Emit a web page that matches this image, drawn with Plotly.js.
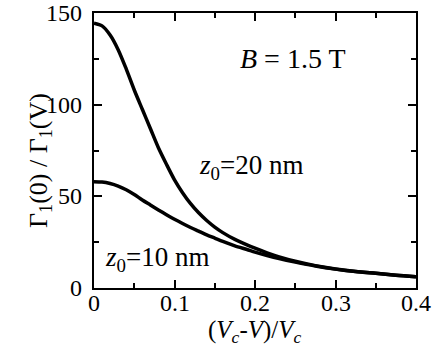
<!DOCTYPE html>
<html>
<head>
<meta charset="utf-8">
<script src="https://cdn.plot.ly/plotly-3.0.1.min.js"></script>
<style>
  html, body { margin: 0; padding: 0; background: #fff; }
  #chart { width: 436px; height: 361px; }
</style>
</head>
<body>
<div id="chart"></div>
<script>
// reduced voltage (Vc-V)/Vc
const xVals = [0, 0.01, 0.02, 0.03, 0.04, 0.05, 0.06, 0.07, 0.08, 0.09, 0.10, 0.11, 0.12, 0.13, 0.14, 0.15,
	0.16, 0.175, 0.19, 0.20, 0.215, 0.23, 0.25, 0.275, 0.30, 0.325, 0.35, 0.375, 0.40];

// Gamma1(0)/Gamma1(V) for z0 = 20 nm
const ratio20 = [144.5, 143, 138, 130, 119.5, 108, 97.5, 87, 76.5, 67.5, 59, 52, 46, 41, 36.8, 33.2,
	30.2, 26.5, 23.5, 21.7, 19.2, 17, 14.6, 12.2, 10.4, 9, 8, 7, 6.2];

// Gamma1(0)/Gamma1(V) for z0 = 10 nm
const ratio10 = [58, 57.8, 57, 55.6, 53.6, 51, 48, 45.3, 42.6, 40, 37.5, 35.2, 33, 31, 29, 27.2,
	25.4, 23, 21, 19.6, 17.7, 16, 14.1, 12, 10.3, 9, 8, 7, 6.2];

const xTicks = [0, 0.1, 0.2, 0.3, 0.4];
const yTicks = [0, 50, 100, 150];

const serif = "Times New Roman";

// both curves drawn the same way
const makeTrace = (y, name) => ({
	x: xVals,
	y: y,
	mode: "lines",
	type: "scatter",
	name: name,
	line: { color: "#000", width: 3.5, shape: "spline", smoothing: 0.8 },
	hoverinfo: "skip",
});

const data = [
	makeTrace(ratio20, "z0=20 nm"),
	makeTrace(ratio10, "z0=10 nm"),
];

const font = (size) => ({ family: serif, size: size, color: "#000" });

// wrap plain numbers in a styled span so they keep the serif face
const serifText = (v) => `<span style="font-family:'Times New Roman'">${v}</span>`;

// tick labels as annotations, placed on the axis scales
const xTickLabels = xTicks.map(v => ({
	text: serifText(v), x: v, xref: "x", y: -0.0545, yref: "paper",
	yanchor: "middle", showarrow: false, font: font(24),
}));
const yTickLabels = yTicks.map(v => ({
	text: serifText(v), x: -0.03, xref: "paper", y: v, yref: "y",
	xanchor: "right", yanchor: "middle", showarrow: false, font: font(24),
}));

const layout = {
	width: 436,
	height: 361,
	margin: { l: 94, r: 20, t: 13, b: 73 },
	paper_bgcolor: "#fff",
	plot_bgcolor: "#fff",
	showlegend: false,
	font: font(24),
	xaxis: {
		range: [0, 0.4],
		tickvals: xTicks,
		showticklabels: false,
		showline: true, linecolor: "#000", linewidth: 2, mirror: "ticks",
		ticks: "inside", ticklen: 8, tickwidth: 2, tickcolor: "#000",
		showgrid: false, zeroline: false,
		minor: { dtick: 0.05, ticks: "inside", ticklen: 5, tickwidth: 2, tickcolor: "#000" },
	},
	yaxis: {
		range: [0, 150],
		tickvals: yTicks,
		showticklabels: false,
		showline: true, linecolor: "#000", linewidth: 2, mirror: "ticks",
		ticks: "inside", ticklen: 8, tickwidth: 2, tickcolor: "#000",
		showgrid: false, zeroline: false,
		minor: { dtick: 25, ticks: "inside", ticklen: 5, tickwidth: 2, tickcolor: "#000" },
	},
	annotations: [
		...xTickLabels,
		...yTickLabels,
		// axis titles
		{ text: "(<i>V<sub>c</sub></i>-<i>V</i>)/<i>V<sub>c</sub></i>", x: 0.5, y: -0.094, xref: "paper", yref: "paper",
			yanchor: "top", showarrow: false, font: font(25) },
		{ text: "Γ<sub>1</sub>(0) / Γ<sub>1</sub>(V)", x: -0.224, y: 0.465, xref: "paper", yref: "paper",
			textangle: -90, showarrow: false, font: font(26) },
		// in-plot labels
		{ text: "<i>B</i> = 1.5 T", x: 0.247, y: 125, xref: "x", yref: "y", showarrow: false, font: font(28) },
		{ text: "<i>z</i><sub>0</sub>=20 nm", x: 0.195, y: 66, xref: "x", yref: "y", showarrow: false, font: font(27) },
		{ text: "<i>z</i><sub>0</sub>=10 nm", x: 0.078, y: 16, xref: "x", yref: "y", showarrow: false, font: font(27) },
	],
};

Plotly.newPlot("chart", data, layout, { displayModeBar: false, staticPlot: true });
</script>
</body>
</html>
